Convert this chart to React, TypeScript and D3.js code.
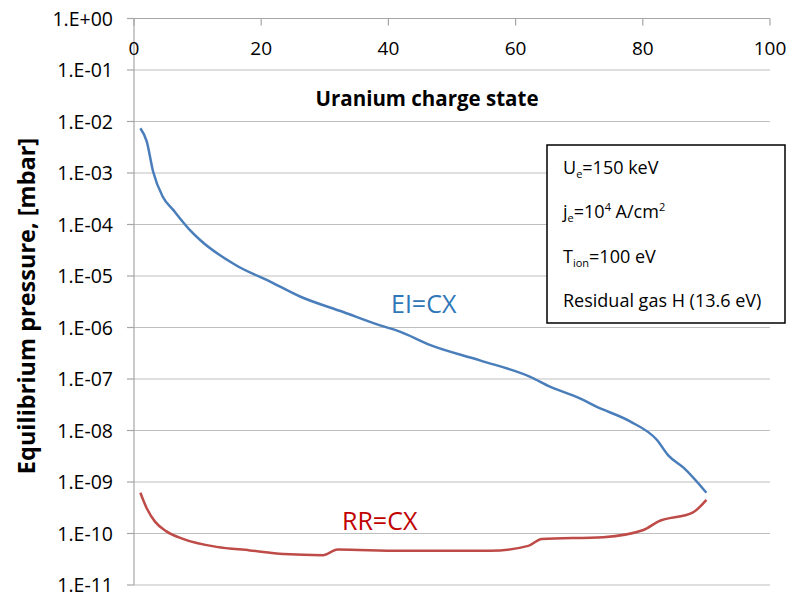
import React from "react";
import * as d3 from "d3";

const xTicks = [0, 20, 40, 60, 80, 100];
const yTicks = [1, 1e-1, 1e-2, 1e-3, 1e-4, 1e-5, 1e-6, 1e-7, 1e-8, 1e-9, 1e-10, 1e-11];
const yTickLabels = ["1.E+00", "1.E-01", "1.E-02", "1.E-03", "1.E-04", "1.E-05", "1.E-06", "1.E-07", "1.E-08", "1.E-09", "1.E-10", "1.E-11"];

const eiCharge = [1, 2, 3, 4.5, 6.2, 8.8, 10.4, 16.1, 21.4, 26.1, 32.9, 38.7, 41.8, 46.5, 54.4, 62.3, 65.4, 70.1, 72.7, 78, 82.2, 84, 86.4, 90];
const eiPressure = [7.4e-3, 4.1e-3, 1.07e-3, 3.5e-4, 1.9e-4, 7.8e-5, 5.0e-5, 1.6e-5, 7.8e-6, 4.0e-6, 2.0e-6, 1.1e-6, 8.3e-7, 4.6e-7, 2.3e-7, 1.1e-7, 7.1e-8, 4.2e-8, 2.9e-8, 1.5e-8, 6.6e-9, 3.3e-9, 1.9e-9, 6.2e-10];

const rrCharge = [1, 2, 3.3, 5.1, 7.8, 13, 18.2, 23.5, 29.7, 32, 41.8, 56, 62, 64.1, 73.8, 80.1, 82.4, 87.9, 90];
const rrPressure = [6.2e-10, 3.1e-10, 1.7e-10, 1.1e-10, 7.8e-11, 5.5e-11, 4.7e-11, 4.0e-11, 3.8e-11, 4.9e-11, 4.6e-11, 4.6e-11, 5.75e-11, 7.8e-11, 8.5e-11, 1.17e-10, 1.7e-10, 2.57e-10, 4.5e-10];

const FONT = "'Open Sans', Lato, sans-serif";

export default function App() {
  const W = 787, H = 594;
  const x = d3.scaleLinear().domain([0, 100]).range([134, 770]);
  const y = d3.scaleLog().domain([1e-11, 1]).range([585, 18.5]);

  const line = d3
    .line<[number, number]>()
    .x((d) => x(d[0]))
    .y((d) => y(d[1]))
    .curve(d3.curveMonotoneX);

  const ei = eiCharge.map((c, i) => [c, eiPressure[i]] as [number, number]);
  const rr = rrCharge.map((c, i) => [c, rrPressure[i]] as [number, number]);

  const [x0, x1] = x.range();
  const [yb, yt] = y.range();

  return (
    <svg width={W} height={H} style={{ position: "absolute", left: 0, top: 0, background: "#fff" }} fontFamily={FONT}>
      <rect x={0} y={0} width={W} height={H} fill="#fff" />
      {yTicks.map((t, i) => (
        <line key={"g" + i} x1={x0} x2={x1} y1={y(t)} y2={y(t)} stroke="#bfbfbf" strokeWidth={1.2} />
      ))}
      <line x1={x0} x2={x0} y1={yt} y2={yb} stroke="#a6a6a6" strokeWidth={1.2} />
      {yTicks.map((t, i) => (
        <line key={"yt" + i} x1={x0 - 7} x2={x0} y1={y(t)} y2={y(t)} stroke="#a6a6a6" strokeWidth={1.2} />
      ))}
      {yTicks.map((t, i) => (
        <text key={"yl" + i} x={113} y={y(t)} dy="0.36em" textAnchor="end" fontSize={19.5} fill="#000">
          {yTickLabels[i]}
        </text>
      ))}
      <line x1={x0} x2={x1} y1={yt} y2={yt} stroke="#a6a6a6" strokeWidth={1.2} />
      {xTicks.map((t, i) => (
        <line key={"xt" + i} x1={x(t)} x2={x(t)} y1={yt} y2={yt + 7} stroke="#a6a6a6" strokeWidth={1.2} />
      ))}
      {xTicks.map((t, i) => (
        <text key={"xl" + i} x={x(t)} y={48} dy="0.36em" textAnchor="middle" fontSize={19} fill="#000">
          {t}
        </text>
      ))}
      <text x={427} y={99} dy="0.36em" textAnchor="middle" fontSize={20.5} fontWeight="bold" fill="#000">
        Uranium charge state
      </text>
      <text
        transform={`translate(27,306) rotate(-90)`}
        textAnchor="middle"
        dy="0.36em"
        fontSize={23.5}
        fontWeight="bold"
        fill="#000"
      >
        Equilibrium pressure, [mbar]
      </text>
      <path d={line(ei) || ""} fill="none" stroke="#4a7ebb" strokeWidth={2.5} strokeLinejoin="round" />
      <path d={line(rr) || ""} fill="none" stroke="#be4b48" strokeWidth={2.5} strokeLinejoin="round" />
      <text x={391} y={304} dy="0.36em" fontSize={25} fill="#2f77b8">
        EI=CX
      </text>
      <text x={342} y={521} dy="0.36em" fontSize={25} fill="#c00000">
        RR=CX
      </text>
      <rect x={547} y={145} width={238} height={178} fill="#fff" stroke="#000" strokeWidth={1.5} />
      <g fontSize={18} fill="#000">
        <text x={563} y={168} dy="0.36em">
          U<tspan fontSize={11} dy="4">e</tspan>
          <tspan dy="-4">=150 keV</tspan>
        </text>
        <text x={563} y={212} dy="0.36em">
          j<tspan fontSize={11} dy="4">e</tspan>
          <tspan dy="-4">=10</tspan>
          <tspan fontSize={11} dy="-7">4</tspan>
          <tspan dy="7"> A/cm</tspan>
          <tspan fontSize={11} dy="-7">2</tspan>
        </text>
        <text x={563} y={257} dy="0.36em">
          T<tspan fontSize={11} dy="4">ion</tspan>
          <tspan dy="-4">=100 eV</tspan>
        </text>
        <text x={563} y={301} dy="0.36em">
          Residual gas H (13.6 eV)
        </text>
      </g>
    </svg>
  );
}
